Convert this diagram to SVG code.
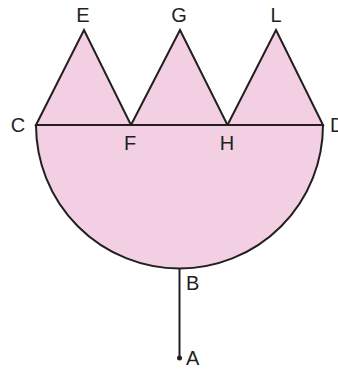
<svg xmlns="http://www.w3.org/2000/svg" width="338" height="369" viewBox="0 0 338 369">
<style>
.s{fill:#f2cfe2;stroke:#231f20;stroke-width:2;stroke-linejoin:miter}
.l{stroke:#231f20;stroke-width:2;fill:none}
text{font-family:"Liberation Sans",Arial,sans-serif;font-size:20px;fill:#231f20}
</style>
<rect width="338" height="369" fill="#fff"/>
<g id="semicircle"><path class="s" d="M36,125 A143.5,143.5 0 0 0 323,125 Z"/></g>
<g id="tri-CEF"><path class="s" d="M36,125 L84,30 L131,125 Z"/></g>
<g id="tri-FGH"><path class="s" d="M131,125 L180,30 L227.5,125 Z"/></g>
<g id="tri-HLD"><path class="s" d="M227.5,125 L276,30 L323,125 Z"/></g>
<g id="connectors">
<line class="l" x1="36" y1="125" x2="323" y2="125"/>
<line class="l" x1="179.5" y1="268.5" x2="179.5" y2="358"/>
<circle cx="179.5" cy="358" r="2.5" fill="#231f20"/>
</g>
<g id="labels">
<text x="83" y="22" text-anchor="middle">E</text>
<text x="179" y="22" text-anchor="middle">G</text>
<text x="276" y="22" text-anchor="middle">L</text>
<text x="18" y="132" text-anchor="middle">C</text>
<text x="330" y="132">D</text>
<text x="130" y="150" text-anchor="middle">F</text>
<text x="227" y="150" text-anchor="middle">H</text>
<text x="186" y="290">B</text>
<text x="186" y="365">A</text>
</g>
</svg>
